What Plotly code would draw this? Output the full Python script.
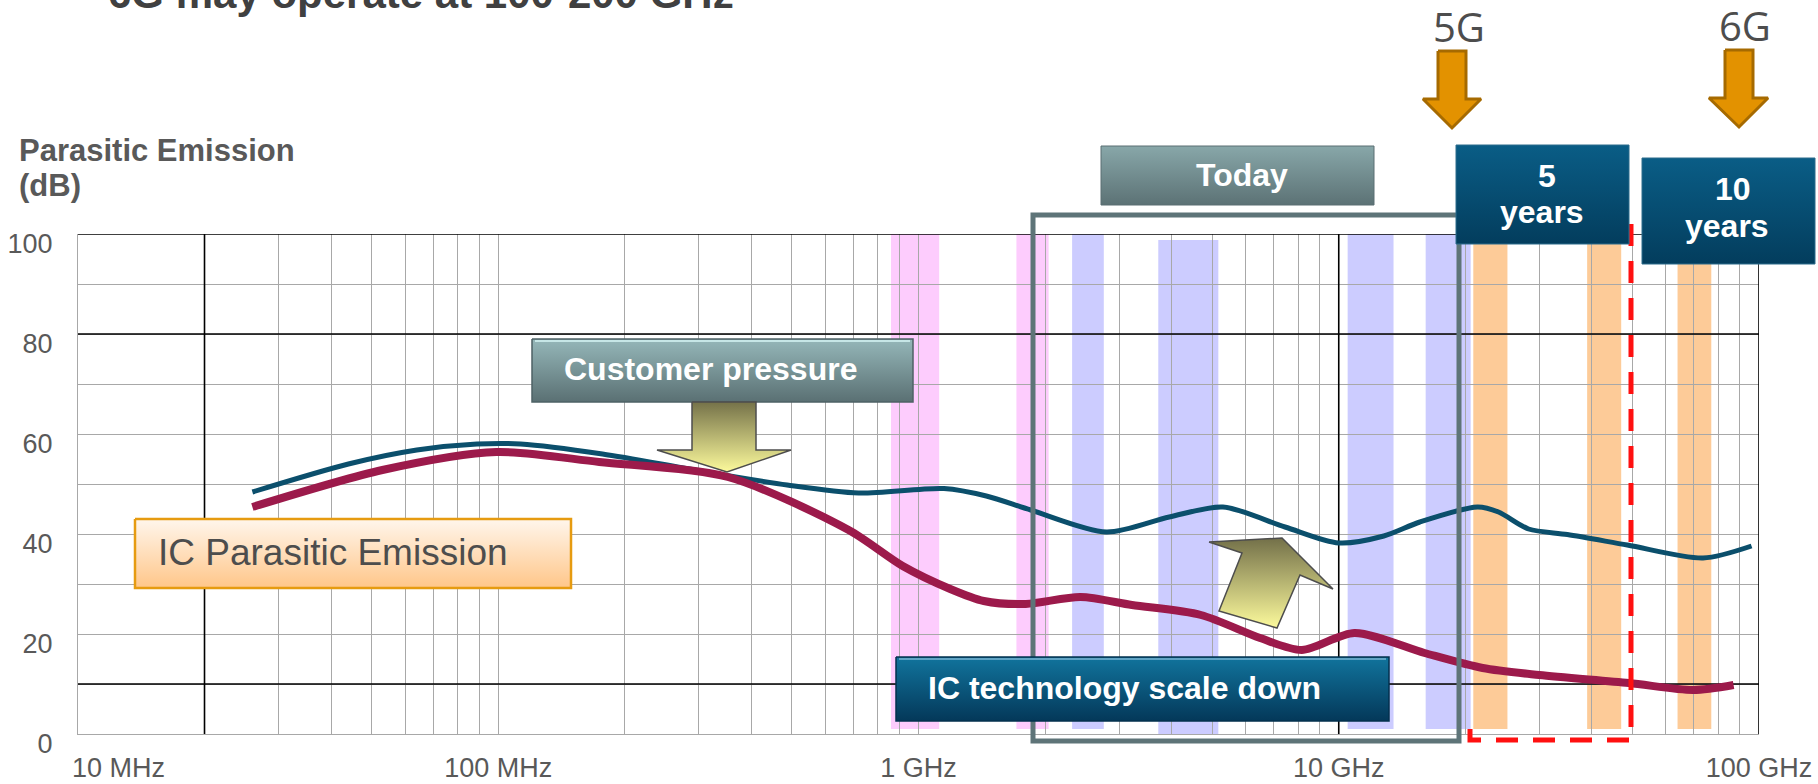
import math
import plotly.graph_objects as go

# ---- data (frequency in GHz, emission in dB) ----
blue_freq = [0.026, 0.044, 0.064, 0.089, 0.113, 0.177, 0.294, 0.487, 0.72, 1.15, 1.45, 1.85,
             2.8, 3.95, 5.3, 7.45, 10.0, 12.8, 15.6, 21.4, 24.0, 28.3, 35.0, 48.6, 73.6, 96.0]
blue_db = [48.4, 54.0, 56.8, 58.0, 58.0, 56.0, 52.8, 49.8, 48.2, 49.1, 47.6, 44.8,
           40.4, 43.4, 45.4, 41.4, 38.2, 39.6, 42.4, 45.4, 44.4, 41.0, 39.9, 37.8, 35.2, 37.6]

red_freq = [0.026, 0.053, 0.099, 0.174, 0.352, 0.682, 0.917, 1.19, 1.43, 1.8, 2.43, 3.22,
            4.7, 6.5, 8.17, 10.9, 16.0, 22.0, 30.0, 49.0, 69.7, 87.0]
red_db = [45.4, 52.8, 56.4, 54.4, 51.4, 40.8, 33.6, 29.0, 26.6, 26.0, 27.4, 25.8,
          23.8, 19.2, 16.8, 20.2, 16.2, 13.2, 11.8, 10.2, 8.8, 9.8]

pink_bands = [(0.86, 1.12), (1.71, 2.04)]
lavender_bands = [(2.32, 2.76), (3.72, 5.17), (10.5, 13.5), (16.1, 20.6)]
orange_bands = [(20.9, 25.2), (39.0, 47.0), (64.0, 77.0)]

x_ticks = [0.01, 0.1, 1, 10, 100]
x_labels = ["10 MHz", "100 MHz", "1 GHz", "10 GHz", "100 GHz"]

W, H = 1818, 784
L, R, T, B = 78, 1759, 234, 734

TICKFONT = "Liberation Sans, Arial"
BOLD = "Liberation Sans, Arial"

fig = go.Figure()

# frequency bands
for lo, hi in pink_bands:
    fig.add_shape(type="rect", xref="x", yref="y", x0=lo, x1=hi, y0=1, y1=100,
                  fillcolor="#FDCCFD", line_width=0, layer="below")
for i, (lo, hi) in enumerate(lavender_bands):
    fig.add_shape(type="rect", xref="x", yref="y", x0=lo, x1=hi, y0=0 if i == 1 else 1,
                  y1=98.8 if i == 1 else 100, fillcolor="#CCCCFF", line_width=0, layer="below")
for lo, hi in orange_bands:
    fig.add_shape(type="rect", xref="x", yref="y", x0=lo, x1=hi, y0=1, y1=100,
                  fillcolor="#FDCB98", line_width=0, layer="below")

# black grid lines
for yv in [100, 80, 10]:
    fig.add_shape(type="line", xref="x", yref="y", x0=0.01, x1=100, y0=yv, y1=yv,
                  line=dict(color="black", width=1.6), layer="between")
for xv in [0.02, 10, 100]:
    fig.add_shape(type="line", xref="x", yref="y", x0=xv, x1=xv, y0=0, y1=100,
                  line=dict(color="black", width=1.6), layer="between")

# curves
fig.add_trace(go.Scatter(x=blue_freq, y=blue_db, mode="lines",
                         line=dict(color="#0B4F6C", width=5, shape="spline", smoothing=0.8),
                         hoverinfo="skip"))
fig.add_trace(go.Scatter(x=red_freq, y=red_db, mode="lines",
                         line=dict(color="#9C1A4B", width=8, shape="spline", smoothing=0.8),
                         hoverinfo="skip"))


# ---- decorations, drawn in pixel space on an overlay axis pair ----
def poly(xs, ys, top=None, bottom=None, fill=None, border="#444", bw=1.0, dash=None, closed=True):
    if closed:
        xs = list(xs) + [xs[0]]
        ys = list(ys) + [ys[0]]
    kw = dict(x=xs, y=ys, mode="lines", xaxis="x2", yaxis="y2", hoverinfo="skip",
              line=dict(color=border, width=bw, dash=dash))
    if top is not None:
        kw["fill"] = "toself"
        kw["fillgradient"] = dict(type="vertical", colorscale=[[0, bottom], [1, top]])
    elif fill is not None:
        kw["fill"] = "toself"
        kw["fillcolor"] = fill
    fig.add_trace(go.Scatter(**kw))


def box(x0, x1, y0, y1, top, bottom, border, bw=1.0):
    poly([x0, x1, x1, x0], [y0, y0, y1, y1], top=top, bottom=bottom, border=border, bw=bw)


# "Today" frame and red dashed frame
poly([1459, 1459, 1033, 1033, 1456], [244, 741, 741, 215, 215], border="#5E7478", bw=5, closed=False)
poly([1470, 1470, 1631, 1631], [729, 740, 740, 213], border="#FF1010", bw=5, dash="22px,15px", closed=False)

# labelled boxes
box(1101, 1374, 146, 205, "#88A7A9", "#5C7275", "#5A6F72")
box(532, 913, 339, 402, "#95B7B9", "#5A7073", "#4E6265", 1.5)
poly([535, 910], [341, 341], border="#C6E6E6", bw=2, closed=False)
box(135, 571, 519, 588, "#FFF6EC", "#FFC689", "#E69B10", 2.5)
box(896, 1389, 657, 721, "#11749D", "#043859", "#03314E", 1.5)
poly([899, 1386], [659, 659], border="#5FA3C4", bw=2, closed=False)
box(1456, 1629, 145, 244, "#0A5D86", "#033D5D", "#2D6C8C")
box(1642, 1815, 158, 264, "#0A5D86", "#033D5D", "#2D6C8C")

# yellow block arrows
poly([692, 756, 756, 791, 727, 657, 692], [402, 402, 450, 450, 472, 450, 450],
     top="#757249", bottom="#FCFA9C", border="#4D4D4D", bw=1.5)
poly([1209, 1282, 1333, 1300, 1277, 1219, 1242], [542, 538, 589, 575, 628, 611, 553],
     top="#737049", bottom="#FCFA9C", border="#4D4D4D", bw=1.5)

# 5G / 6G arrows
poly([1438, 1466, 1466, 1481, 1452, 1423, 1438], [51, 51, 99, 99, 128, 99, 99],
     fill="#E39200", border="#A66A00", bw=3)
poly([1725, 1753, 1753, 1768, 1739, 1709, 1725], [50, 50, 98, 98, 127, 98, 98],
     fill="#E39200", border="#A66A00", bw=3)


def text(t, x, y, size, color, family=BOLD, anchor="center", bold=True, yshift=0):
    s = f"<b>{t}</b>" if bold else t
    fig.add_annotation(text=s, x=x, y=y, xref="x2", yref="y2", xanchor=anchor, yanchor="middle",
                       yshift=yshift, showarrow=False,
                       font=dict(size=size, color=color, family=family))


text("Parasitic Emission", 17, 150, 31, "#595959", anchor="left")
text("(dB)", 17, 185, 31, "#595959", anchor="left")
text("Today", 1242, 175, 32, "white")
text("Customer pressure", 562, 369, 32, "white", anchor="left")
text("IC Parasitic Emission", 156, 552, 37, "#4D4D4D", anchor="left", bold=False)
text("IC technology scale down", 926, 688, 32, "white", anchor="left")
text("5", 1547, 176, 32, "white")
text("years", 1542, 212, 32, "white")
text("10", 1733, 189, 32, "white")
text("years", 1727, 226, 32, "white")
text("5G", 1459, 26, 40, "#4D4D4D", family="Open Sans, Noto Sans", bold=False)
text("6G", 1745, 25, 40, "#4D4D4D", family="Open Sans, Noto Sans", bold=False)
# slide title, cut off by the top edge
text("6G may operate at 100-200 GHz", 106, 0, 42, "#404040", anchor="left", yshift=7)

# first frequency label sits right of its tick, as in the slide (log axis -> log10 position)
fig.add_annotation(text=x_labels[0], x=math.log10(x_ticks[0]), y=768, xref="x", yref="y2",
                   xanchor="left", yanchor="middle", xshift=-8, showarrow=False,
                   font=dict(size=27, color="#595959", family=TICKFONT))

grid = "#A8A8A8"
tick_font = dict(size=27, color="#595959", family=TICKFONT)
fig.update_layout(
    width=W, height=H,
    margin=dict(l=0, r=0, t=0, b=0, pad=0),
    paper_bgcolor="white",
    plot_bgcolor="rgba(0,0,0,0)",
    showlegend=False,
    xaxis=dict(type="log", domain=[L / W, R / W], range=[-2, 2], anchor="y", automargin=False,
               tickmode="array", tickvals=x_ticks, ticktext=[""] + x_labels[1:],
               showgrid=True, gridcolor=grid, gridwidth=1,
               minor=dict(dtick="D1", showgrid=True, gridcolor=grid, gridwidth=1),
               showline=True, linecolor=grid, linewidth=1, zeroline=False, ticks="",
               ticklabelstandoff=10, tickfont=tick_font),
    yaxis=dict(domain=[1 - B / H, 1 - T / H], range=[0, 100], anchor="x", automargin=False,
               dtick=20, showgrid=True, gridcolor=grid, gridwidth=1,
               minor=dict(dtick=10, showgrid=True, gridcolor=grid, gridwidth=1),
               showline=True, linecolor=grid, linewidth=1, zeroline=False, ticks="",
               ticklabelstandoff=19, ticklabelshift=10, tickfont=tick_font),
    xaxis2=dict(domain=[0, 1], range=[0, W], anchor="y2", visible=False, automargin=False),
    yaxis2=dict(domain=[0, 1], range=[H, 0], anchor="x2", visible=False, automargin=False),
)

# the page's default body margin would offset the figure by 8 px
fig.write_html("out.html", config={"displayModeBar": False},
               post_script="document.body.style.margin='0';")
